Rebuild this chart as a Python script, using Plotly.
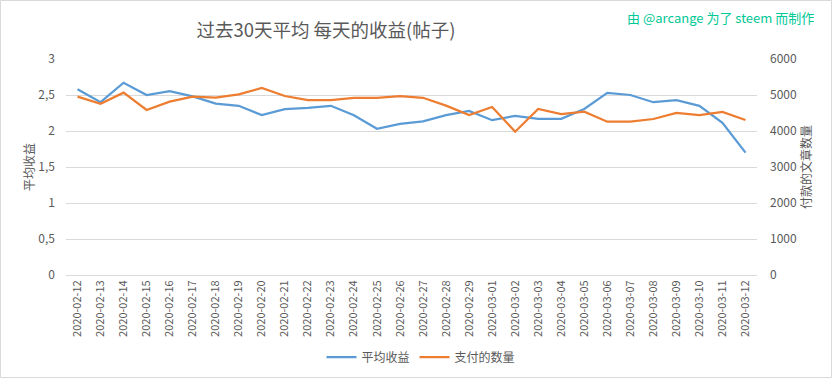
import plotly.graph_objects as go

dates = ["2020-02-12", "2020-02-13", "2020-02-14", "2020-02-15", "2020-02-16", "2020-02-17",
         "2020-02-18", "2020-02-19", "2020-02-20", "2020-02-21", "2020-02-22", "2020-02-23",
         "2020-02-24", "2020-02-25", "2020-02-26", "2020-02-27", "2020-02-28", "2020-02-29",
         "2020-03-01", "2020-03-02", "2020-03-03", "2020-03-04", "2020-03-05", "2020-03-06",
         "2020-03-07", "2020-03-08", "2020-03-09", "2020-03-10", "2020-03-11", "2020-03-12"]

avg_reward = [2.58, 2.40, 2.67, 2.50, 2.555, 2.48, 2.38, 2.35, 2.22, 2.305, 2.32, 2.35,
              2.22, 2.03, 2.10, 2.135, 2.22, 2.28, 2.15, 2.21, 2.17, 2.17, 2.305, 2.53,
              2.50, 2.40, 2.43, 2.35, 2.115, 1.70]

paid_posts = [4953, 4758, 5065, 4583, 4815, 4953, 4926, 5018, 5194, 4972, 4861, 4861,
              4917, 4917, 4972, 4922, 4704, 4444, 4667, 3981, 4611, 4472, 4537, 4259,
              4259, 4333, 4500, 4444, 4528, 4306]

left_ticks = [0, 0.5, 1, 1.5, 2, 2.5, 3]
left_ticktext = ["0", "0,5", "1", "1,5", "2", "2,5", "3"]
right_ticks = [0, 1000, 2000, 3000, 4000, 5000, 6000]

title_text = "过去30天平均 每天的收益(帖子)"
credit_text = "由 @arcange 为了 steem 而制作"
name_avg = "平均收益"
name_paid = "支付的数量"
left_title = "平均收益"
right_title = "付款的文章数量"

FONT = "Noto Sans CJK SC, Noto Sans, sans-serif"
GRAY = "#595959"
GRID = "#D9D9D9"

fig = go.Figure()
fig.add_trace(go.Scatter(x=dates, y=avg_reward, name=name_avg, mode="lines",
                         line=dict(color="#5B9BD5", width=2.25)))
fig.add_trace(go.Scatter(x=dates, y=paid_posts, name=name_paid, mode="lines", yaxis="y2",
                         line=dict(color="#ED7D31", width=2.25)))

W, H = 833, 379
L, R, T, B = 66, 76, 59, 104
pw, ph = W - L - R, H - T - B

def px(x):
    return (x - L) / pw

def py(y):
    return (H - B - y) / ph

fig.update_layout(
    width=W, height=H,
    margin=dict(l=L, r=R, t=T, b=B, autoexpand=False),
    paper_bgcolor="white", plot_bgcolor="white",
    font=dict(family=FONT, color=GRAY, size=11),
    title=dict(text=title_text, x=326 / W, xanchor="center", y=1 - 31 / H, yanchor="middle",
               font=dict(size=18.5, color=GRAY, family=FONT)),
    xaxis=dict(type="category", range=[-0.5, len(dates) - 0.5], tickangle=-90, showgrid=False,
               showline=True, linecolor=GRID, automargin=False,
               linewidth=1, ticks="", tickfont=dict(size=11, color=GRAY), zeroline=False),
    yaxis=dict(range=[0, 3], tickvals=left_ticks, ticktext=left_ticktext, showgrid=True,
               gridcolor=GRID, gridwidth=1, zeroline=False, ticks="", showline=False,
               automargin=False, ticklabelstandoff=10,
               tickfont=dict(size=12, color=GRAY),
               title=dict(text=left_title, font=dict(size=12, color=GRAY), standoff=1)),
    yaxis2=dict(range=[0, 6000], tickvals=right_ticks, overlaying="y", side="right",
                showgrid=False, zeroline=False, ticks="", showline=False,
                automargin=False, ticklabelstandoff=12,
                tickfont=dict(size=12, color=GRAY),
                title=dict(text=right_title, font=dict(size=12, color=GRAY), standoff=5)),
    legend=dict(orientation="h", x=px(421), xanchor="center", y=py(357), yanchor="middle",
                font=dict(size=12, color=GRAY), itemwidth=30, bgcolor="rgba(0,0,0,0)"),
    showlegend=True,
    hovermode=False,
)

fig.add_annotation(text=credit_text, xref="paper", yref="paper", x=px(816), y=py(18),
                   xanchor="right", yanchor="middle", showarrow=False,
                   font=dict(size=13, color="#00C896", family=FONT))

fig.add_shape(type="rect", xref="paper", yref="paper",
              x0=px(0.5), x1=px(831.5), y0=py(377.5), y1=py(0.5),
              line=dict(color=GRID, width=1), fillcolor="rgba(0,0,0,0)", layer="below")

fig.write_html("out.html", config={"displayModeBar": False},
               post_script="document.body.style.margin='0';")
